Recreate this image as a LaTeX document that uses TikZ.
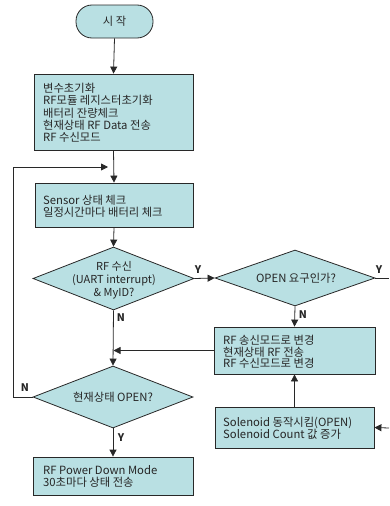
\documentclass[tikz,border=0pt]{standalone}
\usepackage{fontspec}
\setmainfont{Noto Sans CJK KR}
\usetikzlibrary{shapes.geometric,arrows.meta}
\definecolor{boxfill}{RGB}{185,224,227}
\definecolor{edgecol}{RGB}{40,40,40}
\tikzset{
  every node/.style={font=\fontsize{11.3}{12}\selectfont, text=black!85},
  procbox/.style={draw=edgecol, fill=boxfill, line width=0.8pt, rectangle, align=left, inner xsep=0pt, inner ysep=0pt, anchor=center},
  termbox/.style={draw=edgecol, fill=boxfill, line width=0.8pt, rectangle, rounded corners=16pt, minimum width=77pt, minimum height=33pt},
  decbox/.style={draw=edgecol, fill=boxfill, line width=0.8pt, diamond, inner sep=0pt},
  dectext/.style={align=center, inner sep=0pt},
  conn/.style={draw=edgecol, line width=0.8pt},
  arr/.style={conn, -{Triangle[length=7pt,width=7pt]}},
  yn/.style={font=\fontsize{10.5}{12}\selectfont\bfseries, inner sep=0pt}
}
\begin{document}
\begin{tikzpicture}[x=1pt,y=-1pt]
\useasboundingbox (0,0) rectangle (389,506);
% start
\node[termbox] (start) at (114.5,21.5) {시 작};
% box1
\node[procbox, minimum width=159pt, minimum height=76pt] (b1) at (113.5,112) {};
\node[anchor=west, align=left, inner sep=0pt, font=\fontsize{11.3}{12.3}\selectfont] (b1t) at (43,113) {변수초기화\\RF모듈 레지스터초기화\\배터리 잔량체크\\현재상태 RF Data 전송\\RF 수신모드};
% box2
\node[procbox, minimum width=158pt, minimum height=44pt] (b2) at (114,205) {};
\node[anchor=west, align=left, inner sep=0pt] (b2t) at (43,206) {Sensor 상태 체크\\일정시간마다 배터리 체크};
% diamond 1
\node[decbox, minimum width=161pt, minimum height=63pt] (d1) at (113.5,278.5) {};
\node[dectext, font=\fontsize{11}{13}\selectfont] (d1t) at (114,280) {RF 수신\\(UART interrupt)\\\& MyID?};
% diamond 2
\node[decbox, minimum width=160pt, minimum height=56pt] (d2) at (295,278) {};
\node[dectext] (d2t) at (296,278) {OPEN 요구인가?};
% box3
\node[procbox, minimum width=161pt, minimum height=47pt] (b3) at (294.5,350.5) {};
\node[anchor=west, align=left, inner sep=0pt, font=\fontsize{11.3}{11.3}\selectfont] (b3t) at (223,352) {RF 송신모드로 변경\\현재상태 RF 전송\\RF 수신모드로 변경};
% box4
\node[procbox, minimum width=159pt, minimum height=41pt] (b4) at (294.5,427.5) {};
\node[anchor=west, align=left, inner sep=0pt] (b4t) at (223,428) {Solenoid 동작시킴(OPEN)\\Solenoid Count 값 증가};
% diamond 3
\node[decbox, minimum width=160pt, minimum height=62pt] (d3) at (113,397) {};
\node[dectext] (d3t) at (113,397) {현재상태 OPEN?};
% box5
\node[procbox, minimum width=160pt, minimum height=38pt] (b5) at (113,476) {};
\node[anchor=west, align=left, inner sep=0pt] (b5t) at (43,476) {RF Power Down Mode\\30초마다 상태 전송};
% coordinates
\coordinate (rt1) at (389,278);
\coordinate (rt2) at (389,428);
\coordinate (lp1) at (13,397);
\coordinate (lp2) at (13,167);
\coordinate (lp3) at (108,167);
% connectors
\draw[arr] (start.south) -- (b1.north);
\draw[arr] (b1.south) -- (b2.north);
\draw[arr] (b2.south) -- (d1.north);
\draw[arr] (d1.east) -- (d2.west);
\draw[conn] (d2.east) -- (rt1);
\draw[arr] (d2.south) -- (b3.north);
\draw[arr] (d1.south) -- (d3.north);
\draw[arr] (b3.west) -- (d1.south |- b3.west);
\draw[arr] (b4.north) -- (b3.south);
\draw[arr] (rt2) -- (b4.east);
\draw[arr] (d3.west) -- (lp1) -- (lp2) -- (lp3);
\draw[arr] (d3.south) -- (b5.north);
% labels
\node[yn] (y1) at (198,270) {Y};
\node[yn] (y2) at (379,270) {Y};
\node[yn] (n2) at (303,315) {N};
\node[yn] (n1) at (121,318) {N};
\node[yn] (n3) at (25,388) {N};
\node[yn] (y3) at (121,438) {Y};
\end{tikzpicture}
\end{document}
